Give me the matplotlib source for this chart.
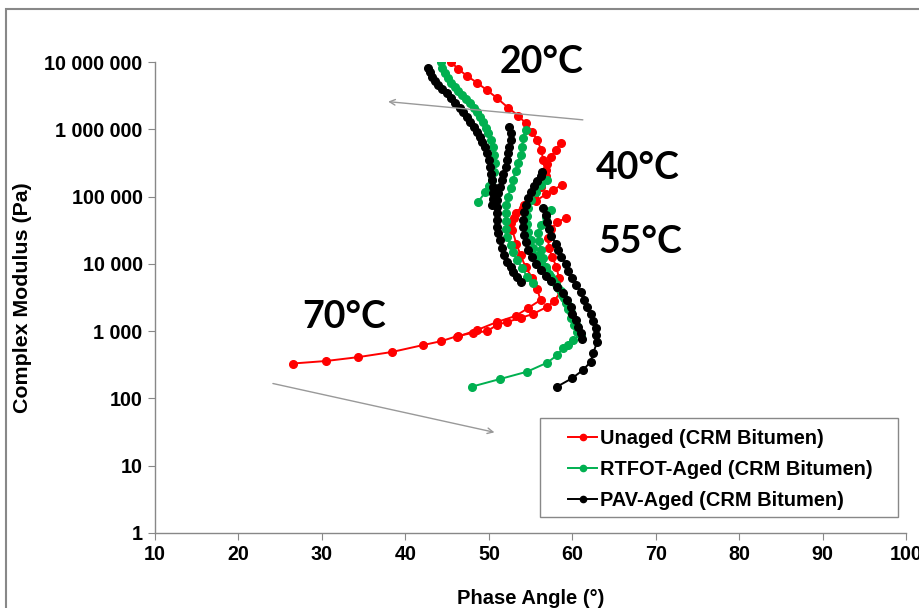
import numpy as np
import matplotlib
matplotlib.use("Agg")
import matplotlib.pyplot as plt
from matplotlib.ticker import FixedLocator, FuncFormatter, NullLocator
from matplotlib.patches import Rectangle

# Phase angle (deg) and complex modulus (Pa), one sweep per test temperature

# Unaged CRM bitumen
unaged_20_phase = [45.5, 46.3, 47.4, 48.6, 49.8, 51.0, 52.3, 53.5, 54.4, 55.2, 55.8, 56.3, 56.5, 56.8, 56.9]
unaged_20_mod = [1.0e7, 7.9e6, 6.2e6, 4.9e6, 3.8e6, 2.9e6, 2.1e6, 1.6e6, 1.24e6, 9.1e5, 6.9e5, 4.9e5, 3.5e5, 2.5e5, 2.0e5]
unaged_40_phase = [58.6, 58.0, 57.5, 57.0, 56.6, 56.3, 55.4, 54.2, 53.2, 52.7]
unaged_40_mod = [6.3e5, 4.9e5, 3.9e5, 3.0e5, 2.1e5, 1.4e5, 9.9e4, 7.5e4, 5.7e4, 4.1e4]
unaged_55_phase = [58.8, 57.7, 56.9, 55.6, 54.1, 53.0, 52.8, 53.3, 53.8, 54.4, 55.2, 55.8, 56.2, 54.7, 53.2, 51.0, 48.6, 46.2]
unaged_55_mod = [1.5e5, 1.25e5, 1.09e5, 8.6e4, 6.8e4, 4.8e4, 3.2e4, 2.0e4, 1.35e4, 9.0e3, 6.2e3, 4.2e3, 2.9e3, 2.2e3, 1.68e3, 1.37e3, 1.04e3, 820]
unaged_70_phase = [59.3, 58.2, 57.5, 57.1, 57.2, 57.6, 58.1, 58.4, 58.6, 57.8, 57.0, 55.3, 53.8, 52.2, 51.0, 49.8,
                   48.1, 46.3, 44.3, 42.1, 38.4, 34.3, 30.5, 26.5]
unaged_70_mod = [4.8e4, 4.2e4, 3.3e4, 2.4e4, 1.7e4, 1.27e4, 9.0e3, 6.2e3, 3.8e3, 2.8e3, 2.3e3, 1.8e3, 1.57e3, 1.37e3,
                 1.24e3, 1.0e3, 940, 850, 710, 620, 490, 410, 360, 330]

# RTFOT-aged CRM bitumen
rtfot_20_phase = [44.3, 44.4, 44.7, 45.1, 45.5, 46.0, 46.3, 46.8, 47.3, 47.8, 48.2, 48.6, 49.0, 49.3, 49.7, 49.9,
                  50.3, 50.5, 50.6, 50.8, 50.6, 50.4, 50.0, 49.6, 48.7]
rtfot_20_mod = [1.0e7, 8.1e6, 6.9e6, 5.8e6, 4.9e6, 4.3e6, 3.7e6, 3.2e6, 2.8e6, 2.5e6, 2.1e6, 1.8e6, 1.5e6, 1.3e6,
                1.05e6, 8.8e5, 6.9e5, 5.5e5, 4.2e5, 3.2e5, 2.3e5, 1.77e5, 1.44e5, 1.17e5, 8.3e4]
rtfot_40_phase = [54.4, 54.1, 54.0, 53.8, 53.5, 53.2, 52.9, 52.6, 52.3, 52.1, 52.0, 52.0, 52.1, 52.2, 52.6, 52.9,
                  53.4, 54.0, 54.6, 55.3]
rtfot_40_mod = [9.8e5, 7.4e5, 5.5e5, 4.2e5, 3.2e5, 2.4e5, 1.77e5, 1.34e5, 9.9e4, 7.5e4, 5.7e4, 4.3e4, 3.3e4, 2.5e4,
                1.9e4, 1.5e4, 1.14e4, 8.7e3, 6.4e3, 5.2e3]
rtfot_55_phase = [57.0, 56.2, 55.6, 55.1, 54.7, 54.6, 54.6, 54.7, 55.0, 55.3, 55.8, 56.3, 56.9, 57.5, 58.1, 58.6,
                  59.0, 59.5, 59.9, 60.2, 60.6, 60.8]
rtfot_55_mod = [1.77e5, 1.5e5, 1.17e5, 8.9e4, 6.8e4, 5.2e4, 3.9e4, 3.0e4, 2.3e4, 1.7e4, 1.3e4, 1.03e4, 8.1e3, 6.4e3,
                5.0e3, 3.95e3, 3.1e3, 2.45e3, 1.93e3, 1.52e3, 1.19e3, 940]
rtfot_70_phase = [57.4, 56.8, 56.3, 55.9, 56.0, 56.2, 56.5, 56.8, 57.2, 57.7, 58.3, 58.8, 59.2, 59.5, 59.9, 60.2,
                  60.6, 61.0, 60.1, 59.5, 58.9, 58.2, 57.0, 54.6, 51.4, 48.0]
rtfot_70_mod = [6.3e4, 5.0e4, 3.8e4, 2.9e4, 2.2e4, 1.6e4, 1.22e4, 9.0e3, 7.1e3, 5.8e3, 4.4e3, 3.45e3, 2.6e3, 2.1e3,
                1.57e3, 1.24e3, 970, 880, 740, 620, 560, 440, 340, 250, 195, 150]

# PAV-aged CRM bitumen
pav_20_phase = [42.7, 43.0, 43.2, 43.6, 43.9, 44.4, 45.0, 45.5, 46.0, 46.5, 46.9, 47.4, 47.8, 48.2, 48.6, 49.0,
                49.2, 49.6, 49.8, 50.0, 50.2, 50.3, 50.4, 50.5, 50.5, 50.5, 50.4]
pav_20_mod = [8.1e6, 7.1e6, 6.0e6, 5.2e6, 4.6e6, 4.0e6, 3.5e6, 2.9e6, 2.5e6, 2.1e6, 1.8e6, 1.5e6, 1.3e6, 1.08e6,
              9.1e5, 7.7e5, 6.5e5, 5.5e5, 4.4e5, 3.5e5, 2.75e5, 2.2e5, 1.77e5, 1.4e5, 1.13e5, 9.2e4, 7.5e4]
pav_40_phase = [52.4, 52.6, 52.6, 52.4, 52.3, 52.2, 52.0, 51.7, 51.6, 51.4, 51.1, 51.0, 51.0, 51.0, 51.0, 51.0,
                51.1, 51.4, 51.6, 51.8, 52.2, 52.6, 52.9, 53.4, 53.8]
pav_40_mod = [1.08e6, 8.8e5, 6.9e5, 5.5e5, 4.4e5, 3.5e5, 2.75e5, 2.2e5, 1.77e5, 1.4e5, 1.13e5, 8.9e4, 7.0e4, 5.7e4,
              4.5e4, 3.5e4, 2.9e4, 2.3e4, 1.7e4, 1.35e4, 1.07e4, 9.0e3, 7.6e3, 6.4e3, 5.4e3]
pav_55_phase = [56.4, 56.2, 55.8, 55.4, 55.1, 54.7, 54.5, 54.2, 54.1, 54.1, 54.2, 54.4, 54.7, 55.2, 55.7, 56.3,
                56.9, 57.5, 58.2, 58.9, 59.4, 59.8, 60.0, 60.4, 60.7, 61.0, 61.2]
pav_55_mod = [2.3e5, 2.0e5, 1.7e5, 1.44e5, 1.17e5, 9.5e4, 7.5e4, 5.9e4, 4.5e4, 3.5e4, 2.7e4, 2.1e4, 1.6e4, 1.27e4,
              1.0e4, 8.1e3, 6.6e3, 5.6e3, 4.5e3, 3.7e3, 2.9e3, 2.3e3, 1.8e3, 1.47e3, 1.15e3, 940, 765]
pav_70_phase = [56.5, 56.8, 57.0, 57.2, 57.5, 58.0, 58.3, 58.7, 59.2, 59.5, 60.0, 60.5, 61.0, 61.4, 61.8, 62.2,
                62.5, 62.8, 62.9, 63.0, 62.5, 62.2, 61.3, 60.0, 58.2]
pav_70_mod = [6.8e4, 5.3e4, 4.2e4, 3.3e4, 2.6e4, 2.0e4, 1.6e4, 1.27e4, 1.0e4, 7.9e3, 6.2e3, 4.9e3, 3.8e3, 2.9e3,
              2.3e3, 1.8e3, 1.42e3, 1.12e3, 880, 690, 475, 350, 265, 200, 150]

series = [
    ("Unaged (CRM Bitumen)", "#ff0000",
     [(unaged_20_phase, unaged_20_mod), (unaged_40_phase, unaged_40_mod),
      (unaged_55_phase, unaged_55_mod), (unaged_70_phase, unaged_70_mod)]),
    ("RTFOT-Aged (CRM Bitumen)", "#00b050",
     [(rtfot_20_phase, rtfot_20_mod), (rtfot_40_phase, rtfot_40_mod),
      (rtfot_55_phase, rtfot_55_mod), (rtfot_70_phase, rtfot_70_mod)]),
    ("PAV-Aged (CRM Bitumen)", "#000000",
     [(pav_20_phase, pav_20_mod), (pav_40_phase, pav_40_mod),
      (pav_55_phase, pav_55_mod), (pav_70_phase, pav_70_mod)]),
]

temp_labels = ["20°C", "40°C", "55°C", "70°C"]
temp_label_pos = [(56.3, 1.0e7), (67.9, 2.7e5), (68.1, 2.1e4), (32.7, 1.6e3)]

fig = plt.figure(figsize=(9.19, 6.08), dpi=100)
ax = fig.add_axes([0.1687, 0.1234, 0.8172, 0.7746])

for name, col, segs in series:
    for i, (ph, mod) in enumerate(segs):
        ax.plot(ph, mod, color=col, lw=1.4, marker="o", markersize=5.5,
                label=name if i == 0 else None, zorder=3)

ax.set_yscale("log")
ax.set_xlim(10, 100)
ax.set_ylim(1, 1e7)
ax.xaxis.set_major_locator(FixedLocator(np.arange(10, 101, 10)))
ax.yaxis.set_major_locator(FixedLocator([10.0 ** k for k in range(0, 8)]))
ax.yaxis.set_minor_locator(NullLocator())
ax.yaxis.set_major_formatter(FuncFormatter(lambda v, p: "{:,}".format(int(round(v))).replace(",", " ")))

for s in ["top", "right"]:
    ax.spines[s].set_visible(False)
for s in ["left", "bottom"]:
    ax.spines[s].set_color("#888888")
    ax.spines[s].set_linewidth(1.0)
ax.tick_params(direction="out", length=5, color="#888888", labelsize=14.2, pad=4)
for lab in ax.get_xticklabels() + ax.get_yticklabels():
    lab.set_fontweight("bold")
    lab.set_fontfamily("Liberation Sans")

ax.set_xlabel("Phase Angle (°)", fontsize=14.5, fontweight="bold", family="Liberation Sans", labelpad=18)
ax.set_ylabel("Complex Modulus (Pa)", fontsize=15.4, fontweight="bold", family="Liberation Sans", labelpad=9)

for txt, (x, y) in zip(temp_labels, temp_label_pos):
    ax.text(x, y, txt, fontsize=27, family="Lato", fontweight="bold", ha="center", va="center",
            zorder=4, clip_on=False)

# trend arrows
ax.annotate("", xy=(37.6, 2.6e6), xytext=(61.6, 1.37e6),
            arrowprops=dict(arrowstyle="->", color="#999999", lw=1.0, mutation_scale=10))
ax.annotate("", xy=(51.0, 30.7), xytext=(23.8, 170),
            arrowprops=dict(arrowstyle="->", color="#999999", lw=1.0, mutation_scale=10))

# legend box drawn separately so the entries sit inside with Excel-like padding
ax.add_patch(Rectangle((0.5126, 0.034), 0.4767, 0.2102, transform=ax.transAxes,
                       facecolor="white", edgecolor="#888888", lw=1.0, zorder=5))
leg = ax.legend(loc="upper left", bbox_to_anchor=(0.55, 0.2215), borderaxespad=0, borderpad=0,
                frameon=False, prop={"family": "Liberation Sans", "weight": "bold", "size": 14.4},
                handlelength=1.45, handletextpad=0.15, labelspacing=0.6)
leg.set_zorder(6)
for h in leg.legend_handles:
    h.set_markersize(4.5)

# chart area border
fig.patches.append(Rectangle((0.006, -0.01), 1.1, 0.996, transform=fig.transFigure,
                             fill=False, edgecolor="#888888", lw=1.5))

fig.savefig("out.png", dpi=100)
